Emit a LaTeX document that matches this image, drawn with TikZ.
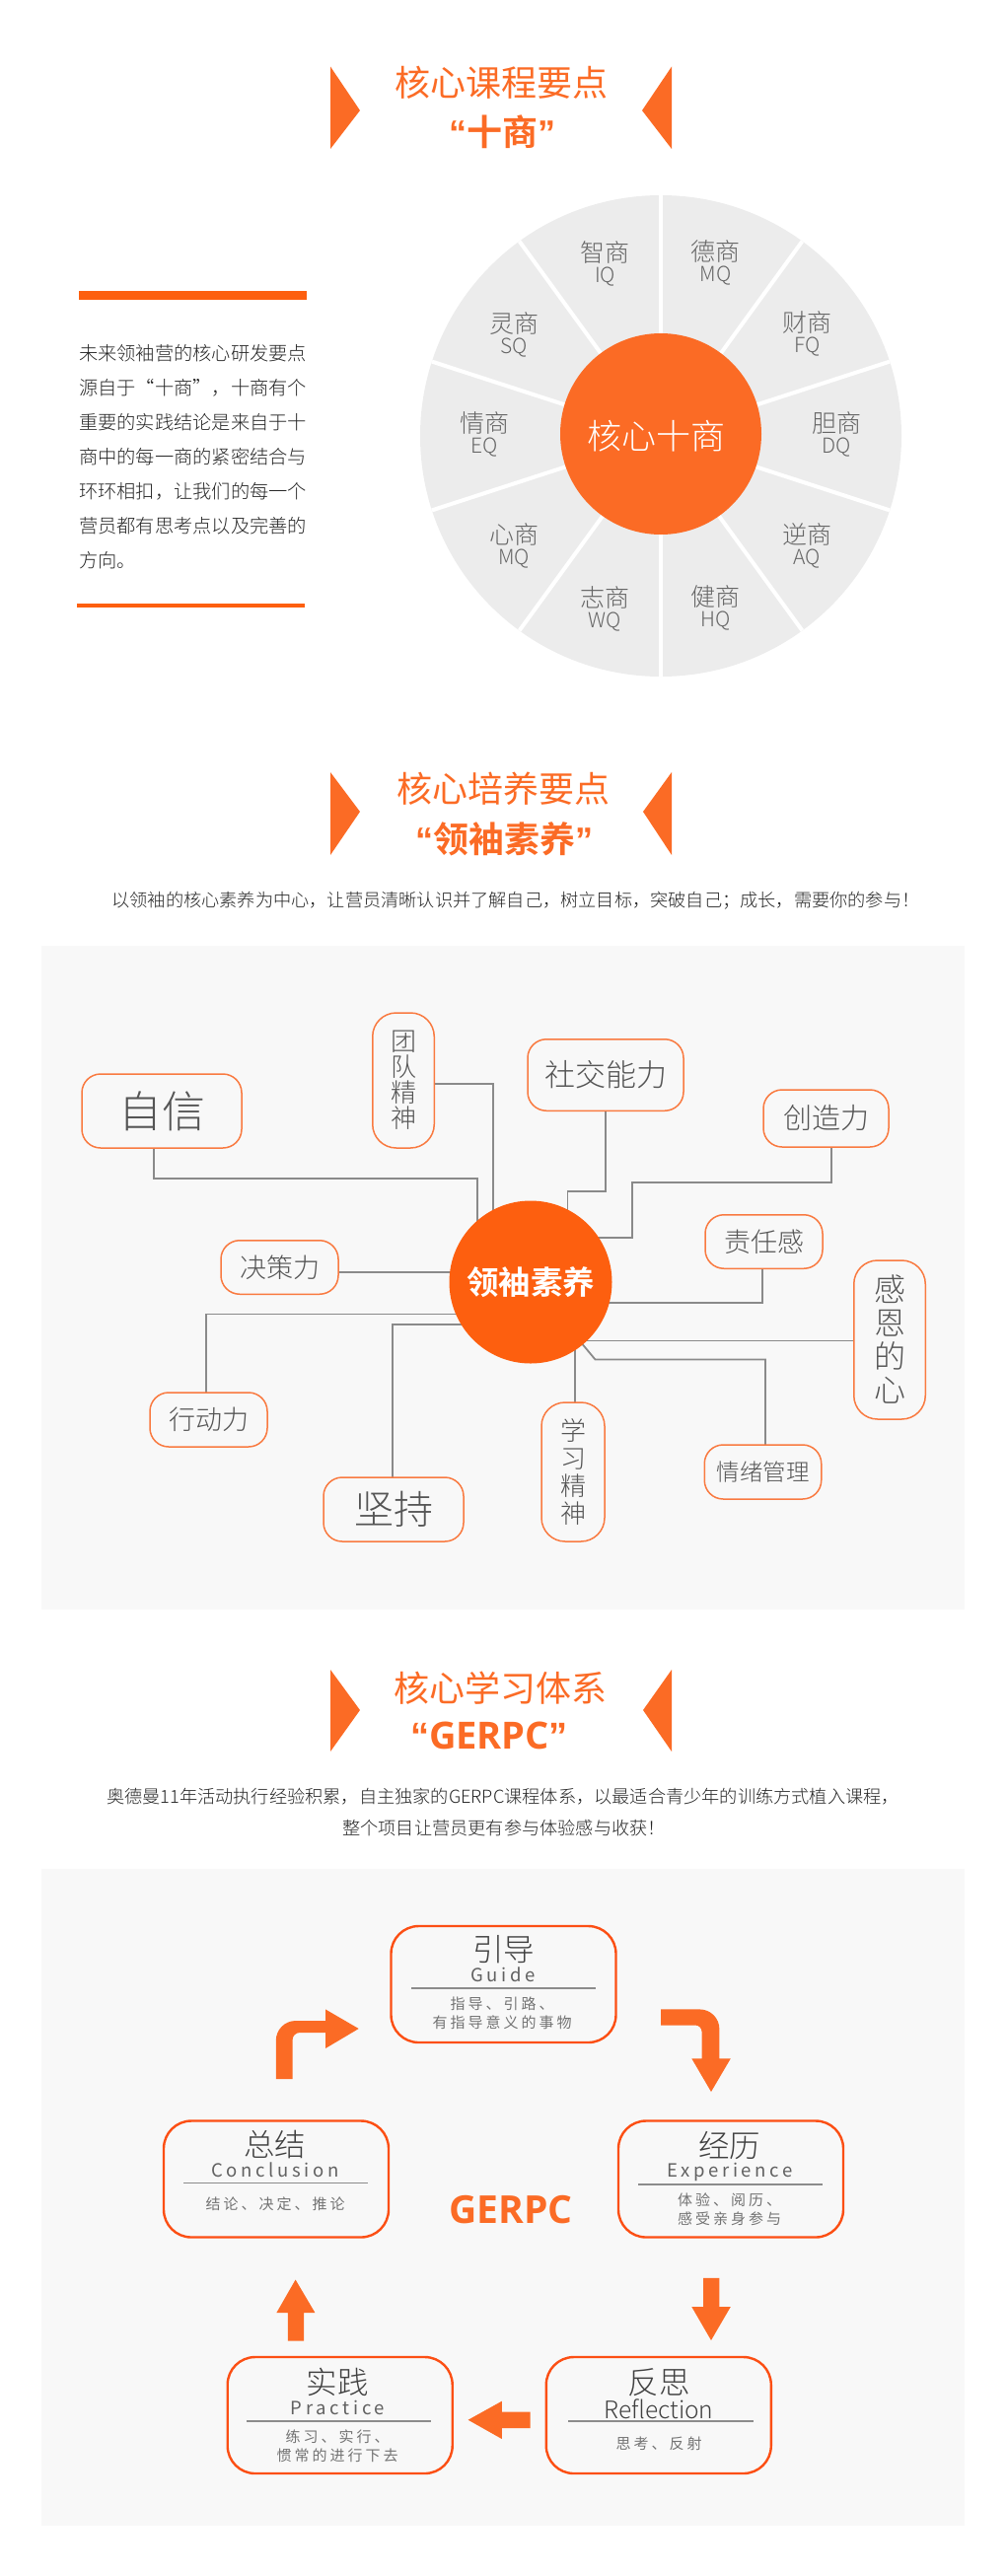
\documentclass[tikz,border=0pt]{standalone}
\usepackage{fontspec}
\setmainfont{Noto Sans CJK SC Light}[BoldFont={Noto Sans CJK SC Bold}]
\newfontfamily\reg{Noto Sans CJK SC}
\newfontfamily\lat{Noto Sans CJK SC Light}
\newfontfamily\latb{Open Sans}[BoldFont={Open Sans Bold}]
\newfontfamily\trk[LetterSpace=20]{Noto Sans CJK SC}
\newfontfamily\cjktrk[LetterSpace=20]{Noto Sans CJK SC}
\newfontfamily\qt{Liberation Sans}
\usetikzlibrary{backgrounds}
\newcommand{\fs}[1]{\fontsize{#1}{#1}\selectfont}
\newcommand{\fsl}[2]{\fontsize{#1}{#2}\selectfont}
\definecolor{org}{HTML}{FB6B25}
\definecolor{deep}{HTML}{FD5F0F}
\definecolor{edge}{HTML}{FC4F14}
\definecolor{thin}{HTML}{F97A40}
\definecolor{wheelc}{HTML}{ECECEC}
\definecolor{panelc}{HTML}{F8F8F8}
\definecolor{txt}{HTML}{555555}
\definecolor{ln}{HTML}{8A8A8A}
\tikzset{
  every node/.style={inner sep=0pt,outer sep=0pt},
  ttl/.style={text=org,font=\reg\fs{36}},
  ttlb/.style={text=org,font=\fs{36}\bfseries},
  subt/.style={text=black!85,font=\fs{18.2}},
  wcn/.style={text=black!60,font=\fs{25}},
  wen/.style={text=black!60,font=\lat\fs{21}},
  sbox/.style={draw=thin,line width=1.5pt,rounded corners=19pt,align=center,text=txt,fill=panelc},
  vbox/.style={sbox,rounded corners=24pt},
  conn/.style={draw=ln,line width=1.8pt},
  cbox/.style={draw=edge,line width=2.4pt,rounded corners=28pt,minimum width=228pt,minimum height=118pt,fill=panelc},
  ctitle/.style={text=black!75,font=\fs{31.5}},
  cen/.style={text=black!62,font=\trk\fs{18.5}},
  cdesc/.style={text=black!55,font=\cjktrk\fs{15},align=center},
  crule/.style={draw=black!45,line width=1.4pt},
  spoke/.style={draw=white,line width=4pt},
  flow/.style={fill=org}
}
\newcommand{\wlab}[5]{%
  \node[wcn] (#1a) at (#2,#3) {#4};
  \node[wen] (#1b) at (#2,#3+25) {#5};
}
\begin{document}
\begin{tikzpicture}[x=1pt,y=-1pt]
\useasboundingbox (0,0) rectangle (1020,2612);
\begin{scope}[on background layer]
  \fill[panelc] (42,959) rectangle (978,1632);
  \fill[panelc] (42,1895) rectangle (978,2561);
\end{scope}

% section 1 heading
\fill[org] (335,67.5) -- (365,112) -- (335,151) -- cycle;
\fill[org] (681,67.5) -- (651,112) -- (681,151) -- cycle;
\node[ttl] (t1) at (508.5,84) {核心课程要点};
\node[ttlb] (t1b) at (509,134) {{\qt\bfseries “}十商{\qt\bfseries ”}};

% left text
\fill[deep] (80,295) rectangle (311,304);
\fill[deep] (78,612) rectangle (309,616);
\node[anchor=north west,align=left,text=black!85,font=\fsl{19.25}{35}] (para) at (80,349) {未来领袖营的核心研发要点\\源自于“十商”，十商有个\\重要的实践结论是来自于十\\商中的每一商的紧密结合与\\环环相扣，让我们的每一个\\营员都有思考点以及完善的\\方向。};

% wheel
\node[circle,fill=wheelc,minimum size=488pt] (wheel) at (670,442) {};
\foreach \a in {90,54,18,-18,-54,-90,-126,-162,162,126}
  \draw[spoke] (wheel.center) -- (wheel.\a);
\node[circle,fill=org,minimum size=204pt] (core) at (670,440) {};
\node[text=white,font=\fs{35}] (coret) at (665,442) {核心十商};
\wlab{a}{613.5}{256}{智商}{IQ}
\wlab{b}{725.5}{255}{德商}{MQ}
\wlab{c}{521}{328}{灵商}{SQ}
\wlab{d}{818.5}{327}{财商}{FQ}
\wlab{e}{491}{429}{情商}{EQ}
\wlab{f}{848}{429}{胆商}{DQ}
\wlab{g}{521}{542}{心商}{MQ}
\wlab{h}{818.5}{542}{逆商}{AQ}
\wlab{i}{613.5}{606}{志商}{WQ}
\wlab{j}{725.5}{605}{健商}{HQ}

% section 2 heading
\fill[org] (335,783) -- (365,823) -- (335,867) -- cycle;
\fill[org] (681,783) -- (652,823) -- (681,867) -- cycle;
\node[ttl] (t2) at (510,800) {核心培养要点};
\node[ttlb] (t2b) at (511,851) {{\qt\bfseries “}领袖素养{\qt\bfseries ”}};
\node[subt] (s2) at (523,913) {以领袖的核心素养为中心，让营员清晰认识并了解自己，树立目标，突破自己；成长，需要你的参与！};

% mind map
\node[circle,fill=deep,minimum size=165pt,text=white,font=\fs{32.5}\bfseries] (hub) at (538,1300) {领袖素养};
\node[sbox,minimum width=162pt,minimum height=75pt,font=\fs{44}] (zixin) at (164,1126.5) {自信};
\node[vbox,minimum width=62.5pt,minimum height=137pt,font=\fsl{26}{26}] (tuandui) at (409,1095.5) {团\\队\\精\\神};
\node[sbox,minimum width=158pt,minimum height=72.5pt,font=\fs{31}] (shejiao) at (614,1090) {社交能力};
\node[sbox,minimum width=127pt,minimum height=58pt,font=\fs{29}] (chuangzao) at (837.5,1134) {创造力};
\node[sbox,minimum width=119pt,minimum height=54.5pt,font=\fs{27}] (zeren) at (774.5,1259) {责任感};
\node[vbox,minimum width=72.5pt,minimum height=161pt,font=\fsl{32}{34}] (ganen) at (902,1358.5) {感\\恩\\的\\心};
\node[sbox,minimum width=119pt,minimum height=54.5pt,font=\fs{27}] (juece) at (283.5,1285) {决策力};
\node[sbox,minimum width=119pt,minimum height=55pt,font=\fs{27}] (xingdong) at (211.5,1439.5) {行动力};
\node[sbox,minimum width=142pt,minimum height=65pt,font=\fs{40}] (jianchi) at (399,1530.5) {坚持};
\node[vbox,minimum width=64pt,minimum height=141pt,font=\fsl{26}{28}] (xuexi) at (581,1492.5) {学\\习\\精\\神};
\node[sbox,minimum width=118.5pt,minimum height=55pt,font=\fs{23.5}] (qingxu) at (773.5,1492.5) {情绪管理};
\begin{scope}[on background layer]
  \draw[conn] (zixin.south -| 155.7,0) -- (155.7,1194.6) -- (483.6,1194.6) -- (483.6,0 |- hub.center);
  \draw[conn] (tuandui.east |- 0,1098.8) -- (500,1098.8) -- (500,0 |- hub.center);
  \draw[conn] (shejiao.south -| 614.3,0) -- (614.3,1208) -- (575.4,1208) -- (575.4,0 |- hub.center);
  \draw[conn] (chuangzao.south -| 842.8,0) -- (842.8,1199) -- (641.3,1199) -- (641.3,1255.3) -- (hub.center |- 0,1255.3);
  \draw[conn] (zeren.south -| 772.6,0) -- (772.6,1321) -- (hub.center |- 0,1321);
  \draw[conn] (ganen.west |- 0,1359.4) -- (hub.center |- 0,1359.4);
  \draw[conn] (qingxu.north -| 776,0) -- (776,1378.5) -- (603.5,1378.5) -- (hub.center);
  \draw[conn] (xuexi.north -| 582.6,0) -- (582.6,0 |- hub.center);
  \draw[conn] (juece.east |- 0,1289.6) -- (hub.center |- 0,1289.6);
  \draw[conn] (xingdong.north -| 209,0) -- (209,1332.5) -- (hub.center |- 0,1332.5);
  \draw[conn] (jianchi.north -| 398,0) -- (398,1343) -- (hub.center |- 0,1343);
\end{scope}

% section 3 heading
\fill[org] (335,1693) -- (365,1734) -- (335,1776) -- cycle;
\fill[org] (681,1693) -- (652,1734) -- (681,1776) -- cycle;
\node[ttl] (t3) at (507.5,1712) {核心学习体系};
\node[text=org,font=\latb\bfseries\fs{38}] (t3b) at (496,1760) {{\qt\bfseries “}GERPC{\qt\bfseries ”}};
\node[subt] (s3a) at (510,1822) {奥德曼11年活动执行经验积累，自主独家的GERPC课程体系，以最适合青少年的训练方式植入课程，};
\node[subt] (s3b) at (511,1854) {整个项目让营员更有参与体验感与收获！};

% cycle boxes
\node[cbox] (guide) at (510.5,2012) {};
\node[ctitle] (guidet) at (510.6,1977) {引导};
\node[cen] (guidee) at (510,2002) {Guide};
\draw[crule] (417,2016) -- (604,2016);
\node[cdesc] (guided1) at (509,2032) {指导、引路、};
\node[cdesc] (guided2) at (509,2051) {有指导意义的事物};

\node[cbox] (exp) at (741,2209.5) {};
\node[ctitle] (expt) at (739.6,2175) {经历};
\node[cen] (expe) at (740,2202) {Experience};
\draw[crule] (647,2215) -- (834,2215);
\node[cdesc] (expd1) at (739.6,2231) {体验、阅历、};
\node[cdesc] (expd2) at (739.6,2250) {感受亲身参与};

\node[cbox] (con) at (280,2209.5) {};
\node[ctitle] (cont) at (278.6,2174) {总结};
\node[cen] (cone) at (279,2200.5) {Conclusion};
\draw[crule] (186,2213.5) -- (373,2213.5);
\node[cdesc] (cond1) at (279,2235) {结论、决定、推论};

\node[cbox] (pra) at (344.7,2449) {};
\node[ctitle] (prat) at (342,2415.6) {实践};
\node[cen] (prae) at (342.5,2441.6) {Practice};
\draw[crule] (250,2455) -- (437,2455);
\node[cdesc] (prad1) at (342,2471) {练习、实行、};
\node[cdesc] (prad2) at (342,2490) {惯常的进行下去};

\node[cbox] (ref) at (667.8,2449) {};
\node[ctitle] (reft) at (668,2415.6) {反思};
\node[text=black!75,font=\lat\fs{24.5}] (refe) at (668,2442.5) {Reflection};
\draw[crule] (576,2455) -- (763.6,2455);
\node[cdesc] (refd1) at (668,2477.6) {思考、反射};

\node[text=org,font=\latb\bfseries\fs{39}] (gerpc) at (518,2241) {GERPC};

% block arrows
\fill[flow] (279.8,2108) -- (279.8,2069) arc[start angle=180,end angle=90,radius=20pt] -- (330,2049) -- (330,2037.4) -- (363.7,2057) -- (330,2077) -- (330,2061) -- (304,2061) arc[start angle=90,end angle=180,radius=7.4pt] -- (296.6,2108) -- cycle;
\fill[flow] (670,2037.4) -- (709.4,2037.4) arc[start angle=90,end angle=0,radius=20pt] -- (729.4,2087.3) -- (740.8,2087.3) -- (721,2121) -- (701.3,2087.3) -- (711.5,2087.3) -- (711.5,2060) arc[start angle=0,end angle=90,radius=6.5pt] -- (670,2053.5) -- cycle;
\fill[flow] (713.2,2309.8) -- (729.4,2309.8) -- (729.4,2339) -- (740.8,2339) -- (721,2373) -- (701.3,2339) -- (713.2,2339) -- cycle;
\fill[flow] (537.6,2445.5) -- (508.8,2445.5) -- (508.8,2434.7) -- (474.6,2453.7) -- (508.8,2473) -- (508.8,2462) -- (537.6,2462) -- cycle;
\fill[flow] (291.8,2373.5) -- (291.8,2345) -- (280.4,2345) -- (299.6,2311.5) -- (319.4,2345) -- (308,2345) -- (308,2373.5) -- cycle;
\end{tikzpicture}
\end{document}
